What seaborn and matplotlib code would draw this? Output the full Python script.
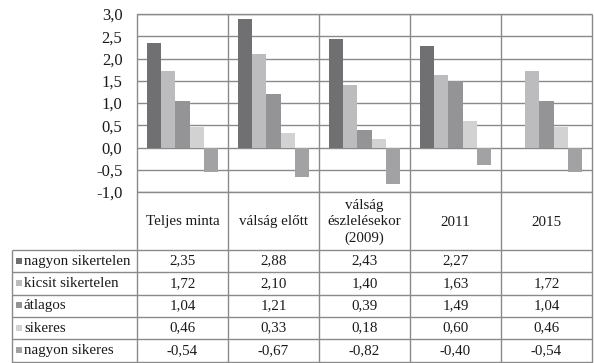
import numpy as np
import pandas as pd
import seaborn as sns
import matplotlib
matplotlib.use("Agg")
import matplotlib.pyplot as plt
from matplotlib import transforms

# --- data -------------------------------------------------------------
categories = ["Teljes minta", "válság előtt", "válság\nészlelésekor\n(2009)", "2011", "2015"]
series = ["nagyon sikertelen", "kicsit sikertelen", "átlagos", "sikeres", "nagyon sikeres"]
nagyon_sikertelen = [2.35, 2.88, 2.43, 2.27, np.nan]
kicsit_sikertelen = [1.72, 2.10, 1.40, 1.63, 1.72]
atlagos = [1.04, 1.21, 0.39, 1.49, 1.04]
sikeres = [0.46, 0.33, 0.18, 0.60, 0.46]
nagyon_sikeres = [-0.54, -0.67, -0.82, -0.40, -0.54]
y_ticks = [-1.0, -0.5, 0.0, 0.5, 1.0, 1.5, 2.0, 2.5, 3.0]

colors = ["#707073", "#bcbcbe", "#949496", "#d2d2d3", "#a2a2a4"]
line_col = "#8a8a8a"
text_col = "#1a1a1a"

series_values = [nagyon_sikertelen, kicsit_sikertelen, atlagos, sikeres, nagyon_sikeres]
rows = []
for s, vals in zip(series, series_values):
    for c, v in zip(categories, vals):
        rows.append({"kategória": c, "sorozat": s, "érték": v})
df = pd.DataFrame(rows)

sns.set_theme(style="white")
plt.rcParams["font.family"] = ["Liberation Serif", "DejaVu Serif"]

W, H = 594, 363
fig = plt.figure(figsize=(W / 100, H / 100), dpi=100)
fig.patch.set_facecolor("white")

# plot area in pixel geometry
x0, x1, y_top, y_bot = 137, 592, 14, 192
ax = fig.add_axes([x0 / W, 1 - y_bot / H, (x1 - x0) / W, (y_bot - y_top) / H])

sns.barplot(data=df, x="kategória", y="érték", hue="sorozat",
            order=categories, hue_order=series, palette=colors,
            width=0.77, saturation=1, linewidth=0, legend=False, ax=ax,
            zorder=3)

ax.set_xlim(-0.5, len(categories) - 0.5)
ax.set_ylim(-1.0, 3.0)
ax.set_yticks(y_ticks)
ax.set_yticklabels([f"{t:.1f}".replace(".", ",") for t in y_ticks], fontsize=12)
ax.tick_params(axis="y", length=0, pad=10.5, colors=text_col)
ax.set_xticks([])
ax.set_xlabel("")
ax.set_ylabel("")
ax.yaxis.grid(True, color=line_col, linewidth=1.0, zorder=0)
ax.set_axisbelow(True)
for sp in ax.spines.values():
    sp.set_visible(False)

# overlay in figure pixel coordinates for the category area and data table
ov = fig.add_axes([0, 0, 1, 1], facecolor="none")
ov.set_xlim(0, W)
ov.set_ylim(H, 0)
ov.axis("off")

def hline(y, xa, xb):
    ov.plot([xa, xb], [y, y], color=line_col, lw=1.0, solid_capstyle="butt")

def vline(x, ya, yb):
    ov.plot([x, x], [ya, yb], color=line_col, lw=1.0, solid_capstyle="butt")

table_left = 12
table_top = 250
row_h = 22.3
n_rows = len(series)

# horizontal borders
hline(y_top, x0, x1)
hline(y_bot, x0, x1)
for i in range(n_rows + 1):
    hline(table_top + i * row_h, table_left, x1)

# vertical borders
col_edges = np.linspace(x0, x1, len(categories) + 1)
for xe in col_edges:
    vline(xe, y_top, H)
vline(table_left, table_top, H)

# category labels, centred under each group
bt = transforms.blended_transform_factory(ax.transData, ov.transData)
for i, c in enumerate(categories):
    ov.text(i, (y_bot + table_top) / 2 + 1, c, transform=bt, ha="center",
            va="center", fontsize=10.8, color=text_col, linespacing=1.3)

# table rows: legend key, series name and values
for r, (s, vals, col) in enumerate(zip(series, series_values, colors)):
    yc = table_top + (r + 0.5) * row_h
    ov.add_patch(plt.Rectangle((16, yc - 3.5), 6, 6, color=col, lw=0))
    ov.text(24, yc, s, ha="left", va="center", fontsize=10.8, color=text_col)
    for i, v in enumerate(vals):
        if np.isnan(v):
            continue
        ov.text(i, yc, f"{v:.2f}".replace(".", ","), transform=bt,
                ha="center", va="center", fontsize=10.8, color=text_col)

fig.savefig("out.png", dpi=100, facecolor="white")
